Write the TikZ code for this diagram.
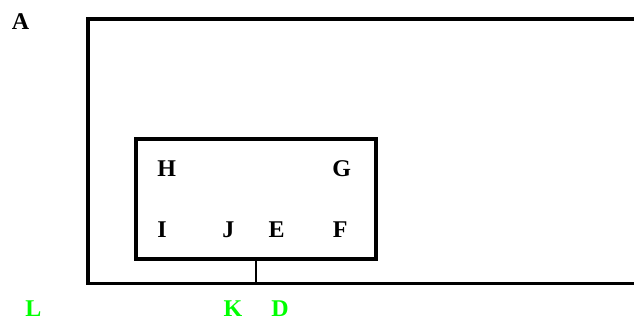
\documentclass[tikz,border=0pt]{standalone}
\usepackage{fontspec}
\setmainfont{Liberation Serif}
\definecolor{lbl}{RGB}{0,255,0}
\begin{document}
\begin{tikzpicture}[x=1pt,y=-1pt,
  box/.style={draw=black,line width=3.5pt,rectangle,inner sep=0pt,outer sep=0pt},
  lab/.style={anchor=base,inner sep=0pt,font=\fontsize{24}{28}\selectfont\bfseries},
  glab/.style={lab,text=lbl},
  conn/.style={draw=black,line width=1.5pt}]
\clip (0,0) rectangle (634,320);
\fill[white] (0,0) rectangle (634,320);
\node[box,minimum width=612pt,minimum height=264.3pt] (outer) at (394,151.2) {};
\node[box,minimum width=240pt,minimum height=120pt] (inner) at (256,199) {};
\draw[conn] (inner.south) -- (inner.south |- outer.south);
\node[lab] (A) at (20.5,29.3) {A};
\node[lab] (H) at (166.7,176.5) {H};
\node[lab] (G) at (341.7,176.5) {G};
\node[lab] (I) at (162,238) {I};
\node[lab] (J) at (228.3,238) {J};
\node[lab] (E) at (276.7,238) {E};
\node[lab] (F) at (340.3,238) {F};
\node[glab] (L) at (33.3,316) {L};
\node[glab] (K) at (233,316) {K};
\node[glab] (D) at (280,316) {D};
\end{tikzpicture}
\end{document}
